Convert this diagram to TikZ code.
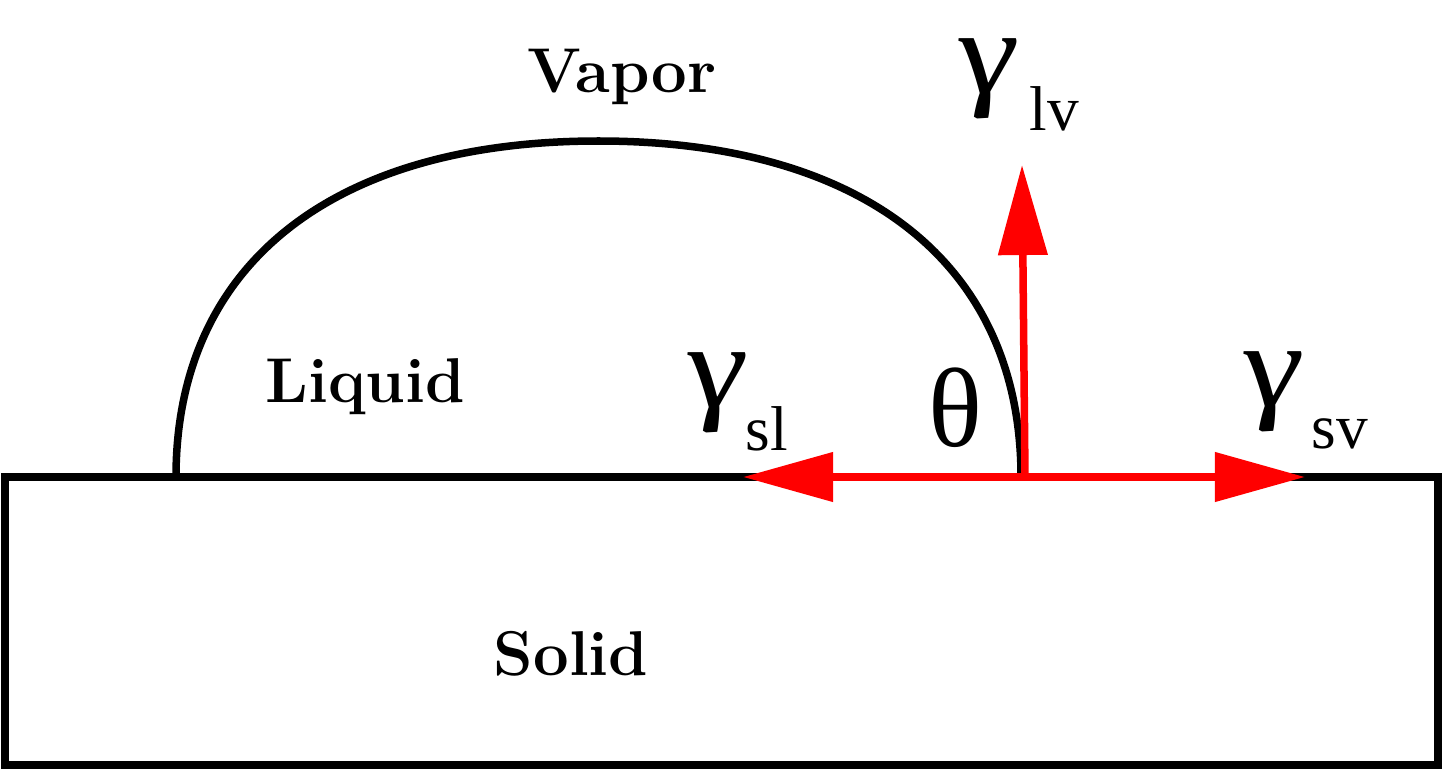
\documentclass[tikz,border=0pt]{standalone}
\usepackage{fontspec}
\newfontfamily\tms{Liberation Serif}
\usetikzlibrary{arrows.meta}
\begin{document}
\begin{tikzpicture}[x=0.01cm,y=-0.01cm,
  outline/.style={line width=0.075cm, black},
  force/.style={line width=0.075cm, red, -{Triangle[length=0.9cm,width=0.48cm]}},
  phase/.style={inner sep=0pt, anchor=base, font=\fontsize{18}{20}\selectfont\bfseries},
  gam/.style={inner sep=0pt, anchor=base west, xslant=-0.12, xscale=1.22, transform shape, font=\tms\itshape\fontsize{34}{34}\selectfont},
  subs/.style={inner sep=0pt, anchor=base west, font=\tms\fontsize{18}{18}\selectfont}]
\useasboundingbox (0,0) rectangle (1443,770);
% solid
\draw[outline] (5,477) rectangle (1438,765);
% droplet
\draw[outline] (176,477) .. controls (176,265) and (332,141) .. (598.5,141)
  .. controls (865,141) and (1021,265) .. (1021,477);
% phase labels
\node[phase] (vapor) at (622,93) {Vapor};
\node[phase] (liquid) at (365,402) {Liquid};
\node[phase] (solid) at (571,675) {Solid};
% forces
\coordinate (O) at (1025,477);
\coordinate (tsl) at (743,477);
\coordinate (tsv) at (1305,477);
\coordinate (tlv) at (1022,165);
\draw[force] (O) -- (tsl);
\draw[force] (O) -- (tsv);
\draw[force] (O) -- (tlv);
% symbols
\begin{scope}[shift={(962,94)}]
  \node[gam] (glv) at (0,0) {γ};
\end{scope}
\node[subs] (slv) at (1029,130) {lv};
\begin{scope}[shift={(691,407)}]
  \node[gam] (gsl) at (0,0) {γ};
\end{scope}
\node[subs] (ssl) at (745,450) {sl};
\begin{scope}[shift={(1247,406)}]
  \node[gam] (gsv) at (0,0) {γ};
\end{scope}
\node[subs] (ssv) at (1311,448) {sv};
\node[inner sep=0pt, anchor=base west, font=\tms\fontsize{32}{32}\selectfont] (theta) at (928,446) {θ};
\end{tikzpicture}
\end{document}
